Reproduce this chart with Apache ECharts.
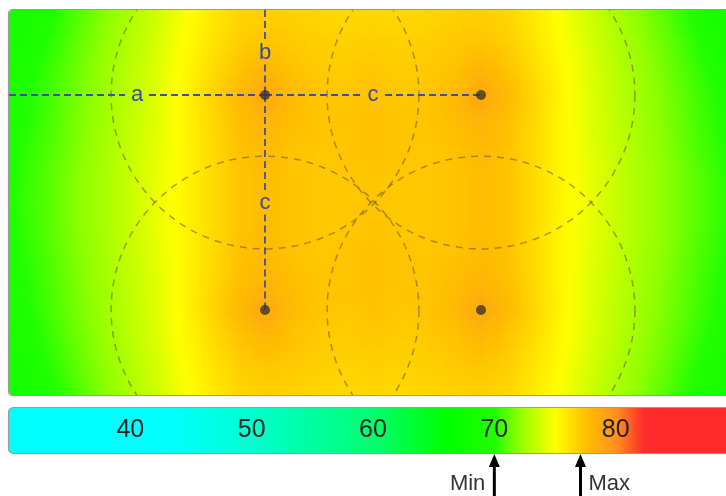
<!DOCTYPE html>
<html>
<head>
<meta charset="utf-8">
<script src="https://cdn.jsdelivr.net/npm/echarts/dist/echarts.min.js"></script>
<style>
html,body{margin:0;padding:0;background:#ffffff;}
#chart{width:726px;height:496px;}
</style>
</head>
<body>
<div id="chart"></div>
<script>
// ---------------- DATA ----------------
// field sample nodes (grid units; speakers sit on nodes x=10,18 / y=4,12)
const fieldX = [0,1,2,3,4,5,6,7,8,9,10,11,12,13,14,15,16,17,18,19,20,21,22,23,24,25,26,27,28];
const fieldY = [0,1,2,3,4,5,6,7,8,9,10,11,12,13,14,15,16];
// sound level (dB), one row per fieldY
const fieldRows = [
 [67.8,68.6,69.5,70.5,71.5,72.4,73.4,74.5,75.5,76.3,76.6,76.5,76.3,76.2,76.3,76.2,76.3,76.5,76.6,76.3,75.5,74.5,73.4,72.4,71.5,70.5,69.5,68.6,67.8],
 [68.1,68.9,69.8,70.8,71.8,72.7,73.7,74.8,75.8,76.6,76.9,76.8,76.6,76.5,76.6,76.5,76.6,76.8,76.9,76.6,75.8,74.8,73.7,72.7,71.8,70.8,69.8,68.9,68.1],
 [68.4,69.2,70.1,71.1,72.0,72.9,73.9,75.0,76.0,76.9,77.3,77.1,76.9,76.8,76.9,76.8,76.9,77.1,77.3,76.9,76.0,75.0,73.9,72.9,72.0,71.1,70.1,69.2,68.4],
 [68.7,69.5,70.4,71.3,72.2,73.1,74.1,75.2,76.3,77.3,78.0,77.4,77.1,77.0,77.2,77.0,77.1,77.4,78.0,77.3,76.3,75.2,74.1,73.1,72.2,71.3,70.4,69.5,68.7],
 [69.0,69.8,70.6,71.5,72.3,73.2,74.2,75.3,76.6,77.8,78.8,77.8,77.3,77.2,77.4,77.2,77.3,77.8,78.8,77.8,76.6,75.3,74.2,73.2,72.3,71.5,70.6,69.8,69.0],
 [69.1,69.9,70.7,71.6,72.4,73.3,74.2,75.3,76.5,77.5,78.1,77.6,77.3,77.3,77.5,77.3,77.3,77.6,78.1,77.5,76.5,75.3,74.2,73.3,72.4,71.6,70.7,69.9,69.1],
 [69.3,70.1,70.8,71.7,72.5,73.4,74.3,75.3,76.4,77.4,77.8,77.4,77.2,77.3,77.5,77.3,77.2,77.4,77.8,77.4,76.4,75.3,74.3,73.4,72.5,71.7,70.8,70.1,69.3],
 [69.5,70.2,71.0,71.8,72.6,73.5,74.4,75.3,76.4,77.3,77.7,77.3,77.2,77.2,77.3,77.2,77.2,77.3,77.7,77.3,76.4,75.3,74.4,73.5,72.6,71.8,71.0,70.2,69.5],
 [69.6,70.3,71.0,71.8,72.6,73.5,74.5,75.4,76.4,77.3,77.7,77.3,77.2,77.1,77.3,77.1,77.2,77.3,77.7,77.3,76.4,75.4,74.5,73.5,72.6,71.8,71.0,70.3,69.6],
 [69.5,70.2,71.0,71.8,72.6,73.5,74.4,75.3,76.4,77.3,77.7,77.3,77.2,77.2,77.3,77.2,77.2,77.3,77.7,77.3,76.4,75.3,74.4,73.5,72.6,71.8,71.0,70.2,69.5],
 [69.3,70.1,70.8,71.7,72.5,73.4,74.3,75.3,76.4,77.4,77.8,77.4,77.2,77.3,77.5,77.3,77.2,77.4,77.8,77.4,76.4,75.3,74.3,73.4,72.5,71.7,70.8,70.1,69.3],
 [69.1,69.9,70.7,71.6,72.4,73.3,74.2,75.3,76.5,77.5,78.1,77.6,77.3,77.3,77.5,77.3,77.3,77.6,78.1,77.5,76.5,75.3,74.2,73.3,72.4,71.6,70.7,69.9,69.1],
 [69.0,69.8,70.6,71.5,72.3,73.2,74.2,75.3,76.6,77.8,78.8,77.8,77.3,77.2,77.4,77.2,77.3,77.8,78.8,77.8,76.6,75.3,74.2,73.2,72.3,71.5,70.6,69.8,69.0],
 [68.7,69.5,70.4,71.3,72.2,73.1,74.1,75.2,76.3,77.3,78.0,77.4,77.1,77.0,77.2,77.0,77.1,77.4,78.0,77.3,76.3,75.2,74.1,73.1,72.2,71.3,70.4,69.5,68.7],
 [68.4,69.2,70.1,71.1,72.0,72.9,73.9,75.0,76.0,76.9,77.3,77.1,76.9,76.8,76.9,76.8,76.9,77.1,77.3,76.9,76.0,75.0,73.9,72.9,72.0,71.1,70.1,69.2,68.4],
 [68.1,68.9,69.8,70.8,71.8,72.7,73.7,74.8,75.8,76.6,76.9,76.8,76.6,76.5,76.6,76.5,76.6,76.8,76.9,76.6,75.8,74.8,73.7,72.7,71.8,70.8,69.8,68.9,68.1],
 [67.8,68.6,69.5,70.5,71.5,72.4,73.4,74.5,75.5,76.3,76.6,76.5,76.3,76.2,76.3,76.2,76.3,76.5,76.6,76.3,75.5,74.5,73.4,72.4,71.5,70.5,69.5,68.6,67.8]
];
// room extent in grid units
const roomX = [0.5185, 27.4815];
const roomY = [0.8372, 15.1628];
// speakers
const speakerX = [10, 18, 10, 18];
const speakerY = [4, 4, 12, 12];
const coverageRadius = 5.7;
// dimension lines
const dimLabels = ['a', 'b', 'c', 'c'];
const dimFrom = [[0.5185, 4], [10, 0.8372], [10, 4], [10, 4]];
const dimTo   = [[10, 4], [10, 4], [18, 4], [10, 12]];
// colour scale
const scaleRange = [30, 90];
const scaleTicks = [40, 50, 60, 70, 80];
const scaleStopValues = [30, 43, 50, 60, 66, 70, 72, 75, 77.5, 80, 82.3, 90];
const scaleStopColors = ['#00ffff','#00ffff','#00ffd0','#00ff70','#00ff00','#20ff00','#90ff00','#ffff00','#ffc000','#ff9020','#ff2a2a','#ff2a2a'];
const markerNames = ['Min', 'Max'];
const markerValues = [70, 77.1];

// ---------------- helpers ----------------
const FONT = '"Liberation Sans", Arial, Helvetica, sans-serif';
const stopRGB = scaleStopColors.map(h => [parseInt(h.slice(1,3),16), parseInt(h.slice(3,5),16), parseInt(h.slice(5,7),16)]);
function colorAt(v) {
  const n = scaleStopValues.length;
  if (v <= scaleStopValues[0]) return 'rgb(' + stopRGB[0].join(',') + ')';
  if (v >= scaleStopValues[n-1]) return 'rgb(' + stopRGB[n-1].join(',') + ')';
  for (let k = 0; k < n - 1; k++) {
    const a = scaleStopValues[k], b = scaleStopValues[k+1];
    if (v >= a && v <= b) {
      const t = (v - a) / (b - a);
      const c0 = stopRGB[k], c1 = stopRGB[k+1];
      return 'rgb(' + Math.round(c0[0] + (c1[0]-c0[0])*t) + ',' + Math.round(c0[1] + (c1[1]-c0[1])*t) + ',' + Math.round(c0[2] + (c1[2]-c0[2])*t) + ')';
    }
  }
  return '#000';
}

const cellData = [];
for (let j = 0; j < fieldY.length - 1; j++) {
  for (let i = 0; i < fieldX.length - 1; i++) cellData.push([fieldX[i], fieldY[j], i, j]);
}
const speakerData = speakerX.map((x, k) => [x, speakerY[k]]);
const dimData = dimFrom.map((p, k) => [p[0], p[1], dimTo[k][0], dimTo[k][1], k]);
const markerData = markerValues.map((v, k) => [v, 0, k]);

function roomClip(params) {
  const cs = params.coordSys;
  return { type: 'rect', shape: { x: cs.x, y: cs.y, width: cs.width, height: cs.height, r: 4 } };
}

const chart = echarts.init(document.getElementById('chart'), null, { renderer: 'canvas' });
chart.setOption({
  animation: false,
  backgroundColor: '#ffffff',
  grid: [
    { left: 9, top: 10, width: 728, height: 385, containLabel: false, outerBoundsMode: 'none', show: false },
    { left: 9, top: 408, width: 728, height: 45, containLabel: false, outerBoundsMode: 'none', show: false }
  ],
  xAxis: [
    { type: 'value', gridIndex: 0, min: roomX[0], max: roomX[1], show: false },
    { type: 'value', gridIndex: 1, min: scaleRange[0], max: scaleRange[1], interval: 10, z: 10,
      axisLine: { show: false }, axisTick: { show: false }, splitLine: { show: false },
      axisLabel: { inside: true, margin: 23, verticalAlign: 'middle', fontSize: 25, color: '#222',
        fontFamily: FONT, showMinLabel: false, showMaxLabel: false,
        formatter: v => scaleTicks.indexOf(v) >= 0 ? String(v) : '' } }
  ],
  yAxis: [
    { type: 'value', gridIndex: 0, min: roomY[0], max: roomY[1], inverse: true, show: false },
    { type: 'value', gridIndex: 1, min: 0, max: 1, show: false }
  ],
  series: [
    { // sound field
      type: 'custom', xAxisIndex: 0, yAxisIndex: 0, progressive: 0, silent: true, z: 1,
      data: cellData,
      renderItem: function (params, api) {
        const i = api.value(2), j = api.value(3);
        const v00 = fieldRows[j][i], v10 = fieldRows[j][i+1], v01 = fieldRows[j+1][i], v11 = fieldRows[j+1][i+1];
        const p0 = api.coord([fieldX[i], fieldY[j]]);
        const p1 = api.coord([fieldX[i+1], fieldY[j+1]]);
        const w = p1[0] - p0[0], h = p1[1] - p0[1];
        const N = 8, children = [];
        for (let s = 0; s < N; s++) {
          const t = (s + 0.5) / N;
          const a = v00 + (v01 - v00) * t, b = v10 + (v11 - v10) * t;
          const stops = [];
          for (let k = 0; k <= 4; k++) { const u = k / 4; stops.push({ offset: u, color: colorAt(a + (b - a) * u) }); }
          children.push({ type: 'rect', shape: { x: p0[0] - 0.4, y: p0[1] + h * s / N - 0.4, width: w + 0.8, height: h / N + 0.8 },
            style: { fill: { type: 'linear', x: 0, y: 0, x2: 1, y2: 0, colorStops: stops } } });
        }
        return { type: 'group', children: children, clipPath: roomClip(params) };
      }
    },
    { // coverage circles
      type: 'custom', xAxisIndex: 0, yAxisIndex: 0, silent: true, z: 3,
      data: speakerData,
      renderItem: function (params, api) {
        const c = api.coord([api.value(0), api.value(1)]);
        const r = api.size([coverageRadius, 0])[0];
        return { type: 'group', clipPath: roomClip(params), children: [
          { type: 'circle', shape: { cx: c[0], cy: c[1], r: r },
            style: { fill: 'none', stroke: 'rgba(110,80,30,0.55)', lineWidth: 1.5, lineDash: [7, 6] } } ] };
      }
    },
    { // dimension lines
      type: 'custom', xAxisIndex: 0, yAxisIndex: 0, silent: true, z: 4,
      data: dimData,
      renderItem: function (params, api) {
        const a = api.coord([api.value(0), api.value(1)]);
        const b = api.coord([api.value(2), api.value(3)]);
        const label = dimLabels[api.value(4)];
        const len = Math.hypot(b[0]-a[0], b[1]-a[1]);
        const ux = (b[0]-a[0]) / len, uy = (b[1]-a[1]) / len;
        const mx = (a[0]+b[0]) / 2, my = (a[1]+b[1]) / 2, gap = 12;
        const ls = { stroke: '#3f4fa8', lineWidth: 1.8, lineDash: [7, 4] };
        return { type: 'group', children: [
          { type: 'line', shape: { x1: a[0], y1: a[1], x2: mx - ux*gap, y2: my - uy*gap }, style: ls },
          { type: 'line', shape: { x1: mx + ux*gap, y1: my + uy*gap, x2: b[0], y2: b[1] }, style: ls },
          { type: 'text', style: { text: label, x: mx, y: my, align: 'center', verticalAlign: 'middle',
            font: '22px ' + FONT, fill: '#3a4aa4' } }
        ] };
      }
    },
    { // speakers
      type: 'scatter', xAxisIndex: 0, yAxisIndex: 0, silent: true, z: 5,
      data: speakerData, symbol: 'circle', symbolSize: 10,
      itemStyle: { color: '#3b3622' }
    },
    { // colour scale bar
      type: 'custom', xAxisIndex: 1, yAxisIndex: 1, silent: true, z: 1,
      data: [[scaleRange[0], 1, scaleRange[1], 0]],
      renderItem: function (params, api) {
        const p0 = api.coord([api.value(0), api.value(1)]);
        const p1 = api.coord([api.value(2), api.value(3)]);
        const span = scaleRange[1] - scaleRange[0];
        const stops = scaleStopValues.map((v, k) => ({ offset: (v - scaleRange[0]) / span, color: scaleStopColors[k] }));
        return { type: 'rect', shape: { x: p0[0] - 0.5, y: p0[1] - 0.5, width: p1[0] - p0[0] + 1, height: p1[1] - p0[1] + 1, r: 5 },
          style: { fill: { type: 'linear', x: 0, y: 0, x2: 1, y2: 0, colorStops: stops }, stroke: '#9a9a9a', lineWidth: 1.2 } };
      }
    },
    { // Min / Max markers
      type: 'custom', xAxisIndex: 1, yAxisIndex: 1, silent: true, z: 6,
      data: markerData,
      renderItem: function (params, api) {
        const p = api.coord([api.value(0), api.value(1)]);
        const k = api.value(2);
        const x = p[0], y = p[1];
        const leftSide = k === 0;
        return { type: 'group', children: [
          { type: 'polygon', shape: { points: [[x, y + 1], [x - 5.5, y + 14], [x + 5.5, y + 14]] }, style: { fill: '#000' } },
          { type: 'rect', shape: { x: x - 1.5, y: y + 12, width: 3, height: 40 }, style: { fill: '#000' } },
          { type: 'text', style: { text: markerNames[k], x: leftSide ? x - 9 : x + 8, y: y + 30.5,
            align: leftSide ? 'right' : 'left', verticalAlign: 'middle', font: '22px ' + FONT, fill: '#333' } }
        ] };
      }
    }
  ],
  graphic: [
    { type: 'rect', z: 100, silent: true, shape: { x: 8.5, y: 9.5, width: 729, height: 386, r: 4 },
      style: { fill: 'none', stroke: '#9a9a9a', lineWidth: 1.2 } }
  ]
});
</script>
</body>
</html>
